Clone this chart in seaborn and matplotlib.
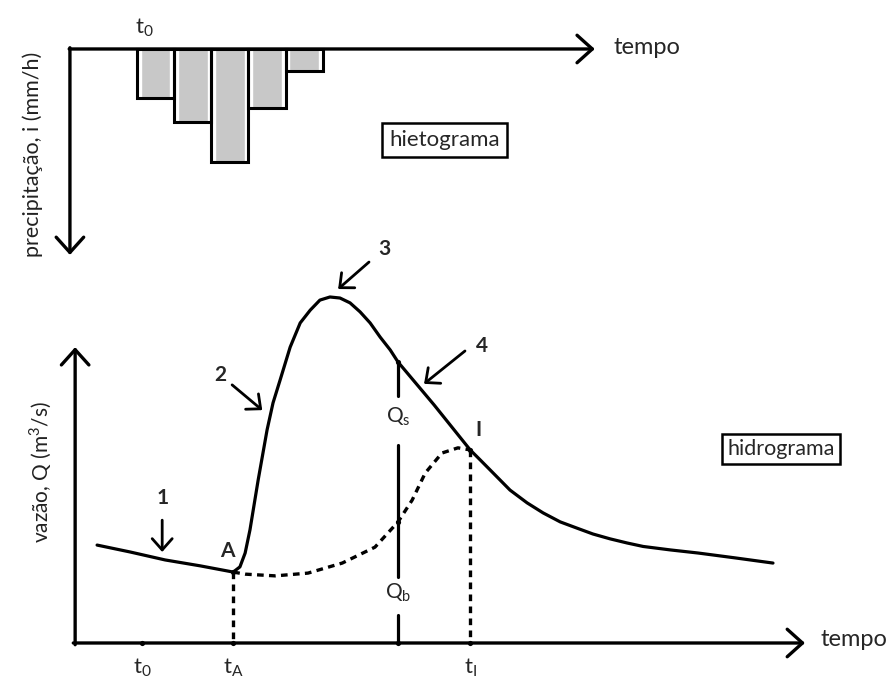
import numpy as np
import pandas as pd
import seaborn as sns
import matplotlib
matplotlib.use("Agg")
import matplotlib.pyplot as plt

# hietograma: intensidade por intervalo (mm/h)
intervalos = ["1", "2", "3", "4", "5"]
intensidade = [20, 30, 46, 24, 9]

# hidrograma: escoamento total (t em h, Q em m3/s)
t_total = [-1.21, -0.32, 0.62, 1.56, 2.45, 2.63, 2.77, 2.90, 3.12, 3.36, 3.52, 3.71,
           3.98, 4.25, 4.52, 4.78, 5.05, 5.32, 5.59, 5.86, 6.13, 6.40, 6.67, 6.88,
           7.85, 8.82, 9.09, 9.44, 9.89, 10.35, 10.78, 11.24, 11.69, 12.12, 12.58,
           13.04, 13.47, 14.20, 14.95, 15.94, 16.96]
q_total = [28.3, 26.3, 24.0, 22.3, 20.5, 22.0, 26.0, 32.7, 47.1, 61.6, 69.4, 76.0,
           85.5, 92.5, 96.2, 99.1, 100.0, 99.7, 98.3, 95.7, 92.5, 88.4, 84.7, 81.2,
           68.8, 55.8, 52.9, 49.1, 44.2, 40.5, 37.6, 35.0, 33.2, 31.5, 30.1,
           28.9, 27.9, 26.9, 26.0, 24.6, 23.1]

# escoamento de base (tracejado) entre A e I
t_base = [2.45, 2.77, 3.58, 4.46, 5.38, 6.26, 6.88, 7.26, 7.61, 8.06, 8.49, 8.82]
q_base = [20.5, 19.9, 19.4, 20.2, 23.1, 27.7, 35.0, 41.3, 49.1, 54.9, 56.4, 55.8]

t_A, q_A = 2.45, 20.5
t_I, q_I = 8.82, 55.8
t_sep = 6.88
q_sep_top, q_sep_base = 81.2, 35.0

sns.set_theme(style="white")
plt.rcParams["font.family"] = ["Lato", "DejaVu Sans"]
plt.rcParams["mathtext.fontset"] = "custom"

fig = plt.figure(figsize=(8.95, 6.85), dpi=100)
fig.patch.set_facecolor("white")

ax_h = fig.add_axes([0, 1 - 265 / 685, 1, 265 / 685])
ax_q = fig.add_axes([0, 0, 1, 465 / 685])
for ax in (ax_h, ax_q):
    ax.patch.set_alpha(0)

ax_arrow = dict(arrowstyle="->,head_length=0.5,head_width=0.45", lw=2.4,
                color="black", mutation_scale=22, shrinkA=0, shrinkB=0)
lab_arrow = dict(arrowstyle="->,head_length=0.45,head_width=0.4", lw=2.0,
                 color="black", mutation_scale=18, shrinkA=0, shrinkB=0)
dash = (0, (2.0, 1.6))

# ---- hietograma
hy = pd.DataFrame({"intervalo": intervalos, "i": intensidade})
sns.barplot(data=hy, x="intervalo", y="i", width=0.8, color="#c8c8c8",
            saturation=1, errorbar=None, ax=ax_h)
sns.barplot(data=hy, x="intervalo", y="i", width=1.0, fill=False,
            edgecolor="black", linewidth=2.2, errorbar=None, ax=ax_h)
ax_h.set_xlim(-4.18, 19.88)
ax_h.set_ylim(88.2, -20)
ax_h.axis("off")

ax_h.annotate("", xy=(11.81, 0), xytext=(-2.32, 0), arrowprops=ax_arrow)
ax_h.annotate("", xy=(-2.30, 84.1), xytext=(-2.30, -0.5), arrowprops=ax_arrow)
ax_h.text(12.3, -0.6, "tempo", fontsize=17, ha="left", va="center")
ax_h.text(-0.3, -8.6, r"$\mathregular{t_0}$", fontsize=16, ha="center", va="center")
ax_h.text(-3.30, 43.0, "precipitação, i (mm/h)", fontsize=15.5, rotation=90,
          ha="center", va="center", color="#222222")
ax_h.text(7.78, 37.1, "hietograma", fontsize=16, ha="center", va="center",
          bbox=dict(boxstyle="square,pad=0.32", fc="white", ec="black", lw=1.8))

# ---- hidrograma
sns.lineplot(x=t_total, y=q_total, color="black", lw=2.3, ax=ax_q)
sns.lineplot(x=t_base, y=q_base, color="black", lw=2.4, linestyle=dash, ax=ax_q)
ax_q.plot([t_A, t_A], [q_A, 0], color="black", lw=2.4, linestyle=dash)
ax_q.plot([t_I, t_I], [q_I, 0], color="black", lw=2.4, linestyle=dash)
for q0, q1 in [(q_sep_top, 71.4), (57.2, 19.1), (8.1, 0)]:
    ax_q.plot([t_sep, t_sep], [q0, q1], color="black", lw=2.3)
sns.scatterplot(x=[t_A, t_I, t_sep, t_sep, t_sep, 0, t_A, t_I],
                y=[q_A, q_I, q_sep_top, q_sep_base, 0, 0, 0, 0],
                color="black", s=14, ax=ax_q, zorder=5, linewidth=0)

ax_q.set_xlim(-3.82, 20.24)
ax_q.set_ylim(-12.14, 122.25)
ax_q.axis("off")

ax_q.annotate("", xy=(17.82, 0), xytext=(-1.85, 0), arrowprops=ax_arrow)
ax_q.annotate("", xy=(-1.80, 85.5), xytext=(-1.80, -0.5), arrowprops=ax_arrow)
ax_q.text(18.23, 1.0, "tempo", fontsize=17, ha="left", va="center")
ax_q.text(-2.72, 49.4, r"vazão, Q (m$^\mathregular{3}$/s)", fontsize=15, rotation=90,
          ha="center", va="center", color="#222222")
ax_q.text(17.18, 56.1, "hidrograma", fontsize=15.5, ha="center", va="center",
          bbox=dict(boxstyle="square,pad=0.25", fc="white", ec="black", lw=1.8))

for tx, lab in [(0, r"$\mathregular{t_0}$"), (t_A, r"$\mathregular{t_A}$"),
                (t_I, r"$\mathregular{t_I}$")]:
    ax_q.text(tx, -7.2, lab, fontsize=16, ha="center", va="center")
ax_q.text(t_sep, 65.3, r"$\mathregular{Q_s}$", fontsize=15, ha="center", va="center")
ax_q.text(t_sep, 14.5, r"$\mathregular{Q_b}$", fontsize=15, ha="center", va="center")
ax_q.text(2.28, 26.6, "A", fontsize=15, fontweight="bold", ha="center", va="center")
ax_q.text(9.03, 61.6, "I", fontsize=15, fontweight="bold", ha="center", va="center")

# rótulos numerados com setas
for (lx, ly), (sx, sy), (ex, ey), txt in [
        ((0.54, 41.9), (0.54, 35.5), (0.54, 26.3), "1"),
        ((2.10, 77.5), (2.42, 74.6), (3.23, 67.3), "2"),
        ((6.51, 113.9), (6.10, 110.1), (5.27, 102.3), "3"),
        ((9.14, 85.8), (8.68, 84.4), (7.58, 74.9), "4")]:
    ax_q.text(lx, ly, txt, fontsize=15, fontweight="bold", ha="center", va="center")
    ax_q.annotate("", xy=(ex, ey), xytext=(sx, sy), arrowprops=lab_arrow)

fig.savefig("out.png", dpi=100, facecolor="white")
